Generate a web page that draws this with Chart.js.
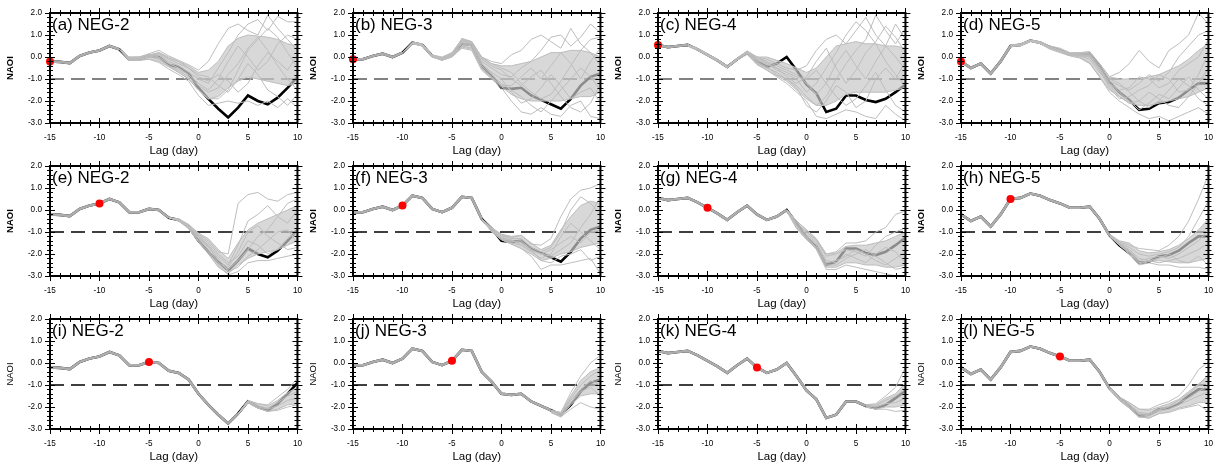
<!DOCTYPE html>
<html>
<head>
<meta charset="utf-8">
<script src="https://cdn.jsdelivr.net/npm/chart.js@4.4.1/dist/chart.umd.min.js"></script>
<style>
  body { margin: 0; background: #fff; width: 1222px; height: 472px; overflow: hidden; position: relative; }
  canvas { position: absolute; }
</style>
</head>
<body>
<script>
// lag axis (day)
const lags = [-15,-14,-13,-12,-11,-10,-9,-8,-7,-6,-5,-4,-3,-2,-1,0,1,2,3,4,5,6,7,8,9,10];

// observed NAOI for each event (lag -15 .. 10)
const obsNEG2 = [-0.2,-0.22,-0.28,0.05,0.2,0.3,0.5,0.35,-0.1,-0.1,0.05,0.0,-0.35,-0.45,-0.75,-1.4,-1.9,-2.35,-2.75,-2.3,-1.75,-2.0,-2.15,-1.85,-1.4,-0.9];
const obsNEG3 = [-0.1,-0.1,0.05,0.15,0.0,0.2,0.65,0.55,0.05,-0.1,0.1,0.6,0.55,-0.4,-0.85,-1.4,-1.45,-1.4,-1.75,-1.95,-2.15,-2.35,-1.9,-1.3,-0.9,-0.75];
const obsNEG4 = [0.55,0.45,0.5,0.55,0.35,0.1,-0.15,-0.45,-0.1,0.2,-0.2,-0.45,-0.3,0.0,-0.6,-1.25,-1.65,-2.5,-2.35,-1.75,-1.75,-1.95,-2.05,-1.9,-1.6,-1.25];
const obsNEG5 = [-0.2,-0.5,-0.3,-0.75,-0.2,0.5,0.55,0.75,0.65,0.45,0.3,0.1,0.1,0.15,-0.4,-1.15,-1.6,-1.95,-2.4,-2.35,-2.1,-2.05,-1.85,-1.5,-1.2,-1.2];

// start lag of each row's forecasts (red dot)
const initLags = [-15, -10, -5];
const events = ['NEG-2', 'NEG-3', 'NEG-4', 'NEG-5'];
const letters = ['a','b','c','d','e','f','g','h','i','j','k','l'];

// ensemble, each array ends at lag 10 (start lag = where the members leave the observed curve)
// hi/lo = dense part of the spread, mem = some single members
const hiA = [0.35,0.0,0.0,0.1,0.2,-0.05,-0.2,-0.4,-0.7,-0.6,-0.2,0.5,0.85,1.0,0.95,0.9,0.8,0.6,0.5];
const loA = [0.35,-0.15,-0.15,-0.1,-0.2,-0.45,-0.7,-1.0,-1.5,-1.9,-1.8,-1.4,-1.1,-0.9,-1.0,-1.1,-1.2,-1.3,-1.2];
const memA = [
  [0.35,0.0,0.0,0.15,0.3,0.05,-0.15,-0.35,-0.6,-0.2,0.6,1.3,1.5,1.2,1.0,1.9,1.3,0.8,0.3],
  [0.35,-0.15,-0.15,-0.1,-0.25,-0.55,-0.8,-1.1,-1.75,-2.2,-2.1,-2.0,-2.1,-2.0,-2.2,-2.0,-2.3,-1.9,-2.3],
  [0.35,-0.05,-0.1,0.0,0.1,-0.2,-0.4,-0.7,-1.0,-1.2,-0.5,0.2,1.0,1.5,1.7,1.2,1.85,1.6,1.6],
  [0.35,-0.1,-0.05,0.05,-0.05,-0.4,-0.6,-0.9,-1.3,-1.6,-1.4,-0.8,-0.3,0.4,0.9,0.3,-0.4,-1.0,-1.5],
  [0.35,-0.1,-0.1,0.05,0.15,-0.1,-0.3,-0.5,-0.8,-0.9,-1.3,-1.6,-1.0,-0.3,-0.8,-1.5,-1.8,-2.2,-1.7],
  [0.35,-0.05,0.0,0.1,0.0,-0.3,-0.5,-0.8,-1.2,-1.5,-1.0,-0.2,0.5,0.0,-0.6,-0.2,0.6,1.0,0.8],
  [0.35,-0.1,-0.1,0.0,-0.1,-0.4,-0.7,-1.0,-1.5,-1.9,-1.9,-1.5,-0.6,0.3,0.8,1.3,0.9,0.2,-0.5],
  [0.35,-0.05,-0.1,0.05,0.2,0.0,-0.2,-0.5,-0.9,-1.1,-0.8,-1.1,-1.6,-1.2,-0.4,0.2,-0.2,-0.6,0.1]
];
const hiB = [0.2,0.68,0.6,0.1,0.0,0.2,0.8,0.7,0.0,-0.3,-0.4,-0.4,-0.3,-0.2,0.0,0.2,0.2,0.3,0.3,0.2,0.0];
const loB = [0.2,0.6,0.5,0.0,-0.15,0.0,0.45,0.35,-0.55,-0.95,-1.35,-1.7,-1.9,-2.0,-2.0,-2.0,-2.0,-1.9,-1.8,-1.8,-1.6];
const memB = [
  [0.2,0.65,0.55,0.05,-0.1,0.1,0.85,0.7,0.0,-0.2,-0.3,0.1,0.3,0.8,1.0,0.7,0.4,1.3,0.6,0.2,-0.4],
  [0.2,0.62,0.5,0.0,-0.15,0.0,0.4,0.3,-0.6,-1.0,-1.4,-2.0,-2.5,-2.6,-2.3,-2.6,-2.7,-2.2,-2.0,-2.7,-2.8],
  [0.2,0.66,0.58,0.08,-0.05,0.15,0.7,0.6,-0.2,-0.5,-0.8,-0.9,-0.5,-0.2,0.3,0.9,1.0,0.5,0.9,1.5,1.1],
  [0.2,0.64,0.55,0.05,-0.1,0.05,0.6,0.5,-0.4,-0.8,-1.2,-1.5,-1.8,-2.2,-2.5,-2.0,-1.5,-1.0,-0.5,-0.9,-1.5],
  [0.2,0.65,0.56,0.06,-0.08,0.12,0.75,0.65,-0.1,-0.4,-0.6,-1.0,-1.3,-0.9,-0.6,-1.2,-1.8,-2.3,-2.5,-2.1,-1.2],
  [0.2,0.63,0.52,0.02,-0.12,0.05,0.5,0.4,-0.5,-0.9,-1.3,-1.3,-0.9,-0.5,-1.0,-0.4,0.2,-0.3,-1.0,-0.2,0.4],
  [0.2,0.66,0.57,0.07,-0.05,0.18,0.8,0.65,-0.05,-0.3,-0.5,-0.7,-1.2,-1.6,-1.9,-1.7,-1.1,-0.4,0.3,0.8,0.9],
  [0.2,0.64,0.54,0.04,-0.1,0.08,0.65,0.55,-0.3,-0.7,-1.0,-1.6,-2.1,-1.9,-1.4,-0.8,-1.3,-1.9,-1.6,-1.4,-2.1]
];
const hiC = [0.58,0.4,0.15,-0.1,-0.4,-0.05,0.28,0.0,0.0,-0.15,-0.3,-0.5,-0.7,-0.5,0.0,0.5,0.6,0.7,0.6,0.6,0.5,0.5,0.4];
const loC = [0.5,0.3,0.05,-0.2,-0.5,-0.15,0.12,-0.35,-0.6,-0.85,-1.1,-1.5,-1.9,-2.2,-2.2,-2.0,-1.7,-1.6,-1.6,-1.6,-1.6,-1.5,-1.4];
const memC = [
  [0.55,0.35,0.1,-0.15,-0.45,-0.1,0.25,0.0,-0.1,-0.3,-0.5,-0.6,-0.4,0.3,0.8,1.0,0.6,1.2,1.8,1.0,0.5,1.5,0.8],
  [0.55,0.35,0.1,-0.15,-0.45,-0.1,0.2,-0.3,-0.6,-0.9,-1.2,-1.6,-2.0,-2.7,-2.8,-2.6,-2.4,-2.5,-2.7,-2.8,-2.2,-2.6,-2.9],
  [0.55,0.35,0.1,-0.15,-0.45,-0.1,0.22,-0.1,-0.3,-0.6,-0.8,-1.0,-1.6,-1.2,-0.5,0.2,1.0,1.6,1.2,0.6,-0.2,-0.8,-1.3],
  [0.55,0.35,0.1,-0.15,-0.45,-0.1,0.18,-0.2,-0.5,-0.7,-1.0,-1.3,-1.8,-2.2,-1.8,-1.0,-0.3,0.3,0.8,1.9,1.2,0.6,1.3],
  [0.55,0.35,0.1,-0.15,-0.45,-0.1,0.2,-0.15,-0.35,-0.5,-0.7,-0.9,-1.0,-0.6,-1.2,-1.8,-2.2,-1.9,-1.3,-0.7,-1.5,-2.2,-2.5],
  [0.55,0.35,0.1,-0.15,-0.45,-0.1,0.25,0.0,-0.2,-0.4,-0.6,-0.8,-1.2,-1.7,-1.2,-0.3,0.3,-0.4,-1.0,-0.2,0.5,0.0,-0.6],
  [0.55,0.35,0.1,-0.15,-0.45,-0.1,0.2,-0.25,-0.45,-0.8,-1.0,-1.4,-2.2,-2.5,-2.0,-1.3,-1.6,-2.3,-2.0,-1.0,-0.5,-1.0,-0.2],
  [0.55,0.35,0.1,-0.15,-0.45,-0.1,0.22,-0.05,-0.25,-0.5,-0.9,-1.2,-0.9,-0.2,0.4,-0.5,-1.2,-0.6,0.2,0.7,1.4,0.9,0.2]
];
const hiD = [0.55,0.6,0.78,0.7,0.5,0.4,0.2,0.2,0.2,-0.3,-0.9,-1.0,-1.0,-1.0,-0.9,-0.8,-0.6,-0.4,-0.1,0.3,0.6];
const loD = [0.48,0.5,0.7,0.6,0.35,0.2,0.05,-0.05,-0.3,-0.9,-1.5,-1.8,-2.1,-2.2,-2.2,-2.1,-2.0,-1.9,-1.8,-1.6,-1.4];
const memD = [
  [0.5,0.55,0.75,0.65,0.45,0.3,0.15,0.2,0.25,-0.3,-0.9,-0.7,-0.3,0.3,-0.2,-0.5,0.3,0.6,1.0,2.0,1.5],
  [0.5,0.52,0.72,0.62,0.4,0.25,0.1,0.0,-0.25,-0.9,-1.6,-2.0,-2.3,-2.6,-2.8,-2.7,-2.9,-2.7,-2.5,-2.3,-2.6],
  [0.52,0.56,0.76,0.66,0.46,0.32,0.12,0.1,0.1,-0.5,-1.1,-1.3,-1.5,-1.2,-0.8,-1.1,-0.7,0.0,0.5,1.0,1.2],
  [0.5,0.54,0.74,0.64,0.42,0.28,0.08,0.05,0.0,-0.6,-1.3,-1.8,-2.1,-2.0,-1.6,-1.9,-2.2,-2.3,-1.8,-1.2,-0.5],
  [0.52,0.55,0.75,0.66,0.44,0.3,0.12,0.15,0.15,-0.4,-1.0,-1.2,-1.6,-2.0,-2.3,-2.0,-1.5,-1.0,-1.3,-1.9,-2.2],
  [0.5,0.53,0.73,0.63,0.4,0.25,0.1,0.05,-0.1,-0.7,-1.2,-1.5,-1.4,-0.9,-1.0,-1.4,-1.2,-0.6,-0.3,0.0,0.8],
  [0.51,0.55,0.74,0.65,0.43,0.28,0.1,0.1,0.05,-0.6,-1.4,-1.9,-1.8,-1.5,-1.3,-0.8,-1.0,-1.6,-1.5,-0.8,0.2],
  [0.5,0.54,0.75,0.64,0.45,0.3,0.12,0.08,0.0,-0.5,-1.2,-1.6,-2.0,-2.4,-2.1,-1.7,-1.9,-1.4,-0.9,-1.5,-1.9]
];
const hiE = [-0.35,-0.4,-0.65,-1.05,-1.3,-1.8,-2.2,-1.5,-0.9,-0.6,-0.4,-0.2,0.0,0.2];
const loE = [-0.35,-0.5,-0.85,-1.45,-2.0,-2.6,-2.9,-2.5,-2.2,-2.0,-1.9,-1.8,-1.6,-1.4];
const memE = [
  [-0.35,-0.42,-0.7,-1.1,-1.4,-1.9,-2.0,0.3,0.7,0.8,0.5,0.4,0.7,0.8],
  [-0.35,-0.48,-0.82,-1.4,-1.9,-2.5,-2.95,-2.8,-2.4,-2.3,-2.3,-2.2,-2.1,-2.0],
  [-0.35,-0.45,-0.75,-1.2,-1.6,-2.1,-2.5,-1.6,-0.5,-0.2,0.2,-0.3,-0.6,0.0],
  [-0.35,-0.46,-0.8,-1.3,-1.8,-2.4,-2.7,-2.3,-1.8,-1.2,-0.9,-0.3,0.3,0.5],
  [-0.35,-0.44,-0.72,-1.15,-1.5,-2.0,-2.4,-2.1,-1.4,-1.6,-2.0,-1.8,-1.3,-1.0],
  [-0.35,-0.47,-0.78,-1.25,-1.7,-2.2,-2.8,-2.6,-2.1,-1.8,-1.4,-1.0,-0.9,-1.5],
  [-0.35,-0.45,-0.76,-1.2,-1.65,-2.3,-2.6,-1.9,-1.0,-0.7,-1.2,-1.5,-1.8,-1.7]
];
const hiF = [-0.4,-0.8,-1.1,-1.2,-1.15,-1.5,-1.8,-1.6,-0.9,-0.3,0.2,0.4,0.3];
const loF = [-0.4,-1.0,-1.35,-1.55,-1.75,-2.0,-2.3,-2.2,-2.0,-1.9,-1.7,-1.6,-1.5];
const memF = [
  [-0.4,-0.82,-1.12,-1.25,-1.15,-1.55,-1.6,-1.3,-0.3,0.5,0.9,1.0,1.2],
  [-0.4,-0.98,-1.35,-1.55,-1.75,-2.1,-2.7,-2.5,-2.5,-2.4,-2.3,-2.2,-2.9],
  [-0.4,-0.85,-1.15,-1.3,-1.3,-1.7,-1.9,-1.7,-1.0,0.0,0.6,0.3,-0.2],
  [-0.4,-0.95,-1.3,-1.5,-1.6,-1.9,-2.2,-2.0,-1.2,-0.6,-1.0,-1.4,-1.8],
  [-0.4,-0.9,-1.2,-1.4,-1.5,-1.8,-2.0,-2.1,-1.8,-1.5,-0.8,-0.2,0.6],
  [-0.4,-0.88,-1.25,-1.45,-1.4,-1.8,-2.3,-2.4,-2.1,-2.0,-1.8,-2.3,-2.1],
  [-0.4,-0.92,-1.28,-1.35,-1.6,-1.85,-2.0,-1.8,-1.5,-1.2,-1.5,-1.0,-0.9]
];
const hiG = [0.02,-0.5,-0.9,-1.3,-2.0,-1.95,-1.65,-1.6,-1.6,-1.5,-1.4,-1.2,-1.0];
const loG = [-0.05,-0.85,-1.35,-1.75,-2.6,-2.6,-2.4,-2.4,-2.5,-2.5,-2.6,-2.6,-2.5];
const memG = [
  [0.0,-0.5,-0.9,-1.35,-2.0,-1.9,-1.5,-1.5,-1.4,-1.0,-0.8,-0.2,-0.05],
  [0.0,-0.8,-1.3,-1.8,-2.7,-2.7,-2.5,-2.6,-2.7,-2.8,-2.9,-3.0,-3.0],
  [0.0,-0.6,-1.0,-1.4,-2.1,-2.0,-1.8,-1.9,-2.1,-1.6,-1.2,-1.0,-0.8],
  [0.0,-0.7,-1.2,-1.6,-2.4,-2.3,-2.1,-1.8,-2.0,-2.3,-2.5,-2.2,-1.9],
  [0.0,-0.65,-1.1,-1.5,-2.3,-2.4,-2.0,-2.2,-2.4,-2.0,-1.7,-1.9,-2.4],
  [0.0,-0.75,-1.25,-1.7,-2.5,-2.5,-2.2,-2.0,-1.8,-2.1,-2.4,-2.7,-2.6]
];
const hiH = [-1.1,-1.4,-1.5,-1.85,-1.95,-1.9,-1.8,-1.6,-1.3,-0.9,-0.4];
const loH = [-1.2,-1.6,-1.95,-2.45,-2.35,-2.3,-2.35,-2.4,-2.4,-2.3,-2.2];
const memH = [
  [-1.15,-1.45,-1.6,-1.75,-1.8,-1.85,-1.6,-1.2,-0.5,0.5,1.6],
  [-1.15,-1.6,-2.0,-2.5,-2.4,-2.5,-2.5,-2.6,-2.6,-2.6,-2.7],
  [-1.15,-1.5,-1.7,-2.0,-2.1,-2.0,-1.9,-1.7,-1.2,-0.4,0.4],
  [-1.15,-1.55,-1.85,-2.3,-2.2,-2.1,-2.2,-2.0,-1.7,-1.4,-0.9],
  [-1.15,-1.52,-1.8,-2.2,-2.3,-2.4,-2.3,-2.2,-2.0,-1.8,-1.5],
  [-1.15,-1.58,-1.9,-2.4,-2.3,-2.2,-2.0,-2.3,-2.4,-2.1,-2.5]
];
const hiI = [-2.3,-1.7,-1.85,-1.95,-1.7,-1.35,-1.1];
const loI = [-2.35,-1.8,-2.05,-2.2,-2.1,-1.9,-1.85];
const memI = [
  [-2.3,-1.72,-1.85,-1.9,-1.55,-1.2,-0.7],
  [-2.35,-1.8,-2.05,-2.2,-2.15,-2.0,-1.9],
  [-2.32,-1.75,-1.95,-2.05,-1.8,-1.5,-1.3],
  [-2.33,-1.78,-2.0,-2.1,-1.95,-1.7,-1.6]
];
const hiJ = [-2.15,-2.25,-1.5,-0.8,-0.4,-0.2];
const loJ = [-2.25,-2.45,-1.9,-1.5,-1.4,-1.4];
const memJ = [
  [-2.15,-2.25,-1.35,-0.6,0.0,0.35],
  [-2.25,-2.45,-2.1,-1.8,-2.0,-2.1],
  [-2.2,-2.35,-1.6,-1.0,-0.6,-0.3],
  [-2.2,-2.4,-1.8,-1.3,-1.1,-1.5],
  [-2.2,-2.3,-1.7,-1.2,-0.8,-1.0]
];
const hiK = [-1.9,-1.9,-1.6,-1.4,-0.9];
const loK = [-2.0,-2.1,-2.0,-2.0,-1.9];
const memK = [
  [-1.9,-1.85,-1.5,-1.1,-0.2],
  [-2.0,-2.1,-2.1,-2.2,-2.15],
  [-1.95,-1.95,-1.7,-1.5,-1.2],
  [-1.95,-2.0,-1.85,-1.8,-1.6]
];
const hiL = [-1.1,-1.55,-1.8,-2.1,-2.15,-2.0,-1.85,-1.65,-1.3,-0.95,-0.6];
const loL = [-1.2,-1.7,-2.05,-2.45,-2.5,-2.3,-2.2,-2.05,-1.95,-1.8,-1.8];
const memL = [
  [-1.1,-1.55,-1.8,-2.1,-2.1,-1.9,-1.75,-1.5,-1.0,-0.3,0.05],
  [-1.2,-1.7,-2.05,-2.45,-2.5,-2.3,-2.25,-2.1,-2.0,-1.9,-2.2],
  [-1.15,-1.6,-1.9,-2.25,-2.3,-2.1,-1.95,-1.7,-1.4,-1.0,-0.5],
  [-1.15,-1.65,-2.0,-2.35,-2.4,-2.2,-2.1,-1.9,-1.7,-1.5,-1.3],
  [-1.15,-1.62,-1.95,-2.3,-2.35,-2.15,-2.0,-1.8,-1.6,-1.3,-1.0]
];

const threshold = -1.0;

const obsList = [obsNEG2, obsNEG3, obsNEG4, obsNEG5];
const hiList = [hiA, hiB, hiC, hiD, hiE, hiF, hiG, hiH, hiI, hiJ, hiK, hiL];
const loList = [loA, loB, loC, loD, loE, loF, loG, loH, loI, loJ, loK, loL];
const memList = [memA, memB, memC, memD, memE, memF, memG, memH, memI, memJ, memK, memL];

const FONT = '"Liberation Sans", Arial, Helvetica, sans-serif';
const GRAY = '#bdbdbd';

// points of an array that ends at lag 10
function tail(arr) {
  const start = 10 - (arr.length - 1);
  return arr.map((v, i) => ({x: start + i, y: v}));
}

// frame, ticks and panel title
const framePlugin = {
  id: 'frame',
  afterDraw(chart, args, opts) {
    const {ctx, chartArea: a, scales: {x, y}} = chart;
    ctx.save();
    ctx.strokeStyle = '#000';
    ctx.lineWidth = 1;
    ctx.beginPath();
    for (let v = -15; v <= 10; v++) {
      const px = Math.round(x.getPixelForValue(v)) + 0.5;
      const len = v % 5 === 0 ? 5 : 3;
      ctx.moveTo(px, a.bottom - len); ctx.lineTo(px, a.bottom + len);
      ctx.moveTo(px, a.top + len); ctx.lineTo(px, a.top - len);
    }
    for (let k = -15; k <= 10; k++) {
      const py = Math.round(y.getPixelForValue(k / 5)) + 0.5;
      const len = k % 5 === 0 ? 5 : 3;
      ctx.moveTo(a.left - len, py); ctx.lineTo(a.left + len, py);
      ctx.moveTo(a.right + len, py); ctx.lineTo(a.right - len, py);
    }
    ctx.stroke();
    ctx.lineWidth = 2;
    ctx.strokeRect(a.left, a.top, a.right - a.left, a.bottom - a.top);
    ctx.fillStyle = '#000';
    ctx.font = '17px ' + FONT;
    ctx.textBaseline = 'alphabetic';
    ctx.fillText(opts.label, a.left + 2, a.top + 17);
    ctx.restore();
  }
};

const colLeft = [50, 353, 658, 961];
const rowTop = [13, 166, 319];

letters.forEach((letter, k) => {
  const row = Math.floor(k / 4), col = k % 4;
  const obs = obsList[col];
  const init = initLags[row];
  const hi = hiList[k], lo = loList[k];
  const split = 10 - (hi.length - 1);

  const datasets = [
    {data: [{x: init, y: obs[lags.indexOf(init)]}], showLine: false, pointRadius: 4,
     pointBackgroundColor: '#ff0000', pointBorderWidth: 0, clip: false, order: 0},
    {data: lags.filter(l => l <= split).map(l => ({x: l, y: obs[lags.indexOf(l)]})),
     borderColor: '#adadad', borderWidth: 2.6, pointRadius: 0, order: 1},
    {data: tail(hi), borderWidth: 0, pointRadius: 0, fill: 3,
     backgroundColor: 'rgba(200,200,200,0.7)', order: 3},
    {data: tail(lo), borderColor: GRAY, borderWidth: 1, pointRadius: 0, order: 2},
    {data: tail(hi), borderColor: GRAY, borderWidth: 1, pointRadius: 0, order: 2},
    {data: lags.map((l, i) => ({x: l, y: obs[i]})), borderColor: '#000', borderWidth: 2.6,
     pointRadius: 0, order: 4},
    {data: [{x: -15, y: threshold}, {x: 10, y: threshold}], borderColor: row === 0 ? '#5a5a5a' : '#000',
     borderWidth: 1.3, borderDash: [14, 7], pointRadius: 0, order: 5}
  ];
  memList[k].forEach(m => datasets.push(
    {data: tail(m), borderColor: GRAY, borderWidth: 1, pointRadius: 0, order: 2}));

  const cv = document.createElement('canvas');
  cv.width = 312; cv.height = 160;
  cv.style.left = (colLeft[col] - 50) + 'px';
  cv.style.top = (rowTop[row] - 13) + 'px';
  document.body.appendChild(cv);

  new Chart(cv, {
    type: 'line',
    data: {datasets},
    plugins: [framePlugin],
    options: {
      responsive: false,
      animation: false,
      events: [],
      layout: {padding: {top: 13, right: 11, left: 0, bottom: 0}},
      plugins: {
        legend: {display: false},
        tooltip: {enabled: false},
        frame: {label: '(' + letter + ') ' + events[col]}
      },
      scales: {
        x: {
          type: 'linear', min: -15, max: 10,
          grid: {display: false, drawTicks: false}, border: {display: false},
          ticks: {stepSize: 5, padding: 10, color: '#000', font: {family: FONT, size: 8.2},
                  maxRotation: 0, callback: v => String(v)},
          title: {display: true, text: 'Lag (day)', color: '#000',
                  font: {family: FONT, size: 11.5}, padding: {top: 0, bottom: 2}},
          afterFit: s => { s.height = 37; }
        },
        y: {
          min: -3, max: 2,
          grid: {display: false, drawTicks: false}, border: {display: false},
          ticks: {stepSize: 1, padding: 8, color: '#000', font: {family: FONT, size: 8.2},
                  callback: v => v.toFixed(1)},
          title: {display: true, text: 'NAOI', color: '#000',
                  font: {family: FONT, size: 9.5, weight: row < 2 ? 'bold' : 'normal'},
                  padding: {top: 4.3, bottom: 0}},
          afterFit: s => { s.width = 50; }
        }
      }
    }
  });
});
</script>
</body>
</html>
